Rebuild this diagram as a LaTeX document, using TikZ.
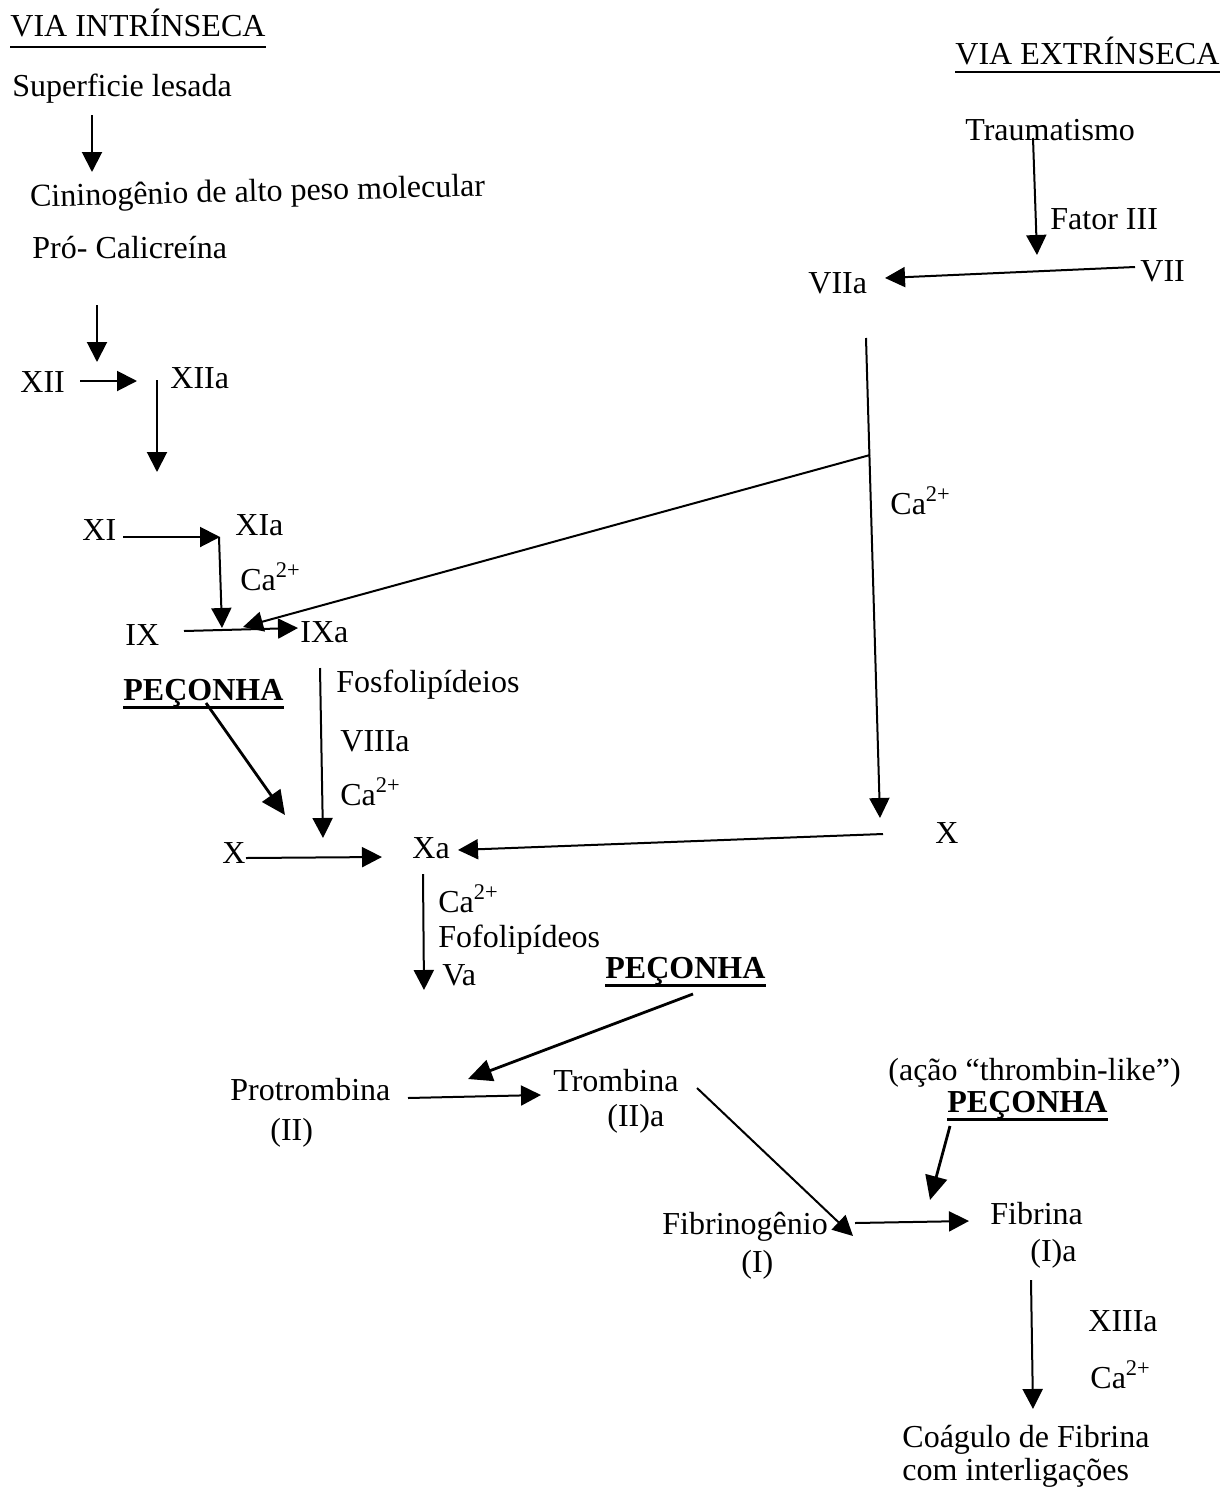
\documentclass[tikz,border=0pt]{standalone}
\usepackage{fontspec}
\setmainfont{Liberation Serif}
\usetikzlibrary{arrows.meta,calc}
\tikzset{
  t/.style={inner sep=0pt,anchor=base west,font=\fontsize{16}{19}\selectfont},
  tb/.style={t,font=\fontsize{16}{19}\selectfont\bfseries},
  ln/.style={line width=1pt},
  arr/.style={ln,-{Triangle[length=10pt,width=10pt]}},
  bigarr/.style={line width=1.4pt,-{Triangle[length=12pt,width=11pt]}},
  ulthin/.style={line width=0.8pt},
  ulthick/.style={line width=1.5pt}
}
\begin{document}
\begin{tikzpicture}[x=0.5pt,y=-0.5pt]
\useasboundingbox (0,0) rectangle (1223,1489);
% ---------- texts ----------
\node[t] (viaint) at (10,36) {VIA INTRÍNSECA};
\node[t] (sup) at (12,96) {Superficie lesada};
\node[t,rotate=1.4] (cin) at (30,207) {Cininogênio de alto peso molecular};
\node[t] (pro) at (32,258) {Pró- Calicreína};
\node[t] (xii) at (20,392) {XII};
\node[t] (xiia) at (170,388) {XIIa};
\node[t] (xi) at (82,540) {XI};
\node[t] (xia) at (235,535) {XIa};
\node[t] (ca1) at (240,590) {Ca\textsuperscript{2+}};
\node[t] (ix) at (125,645) {IX};
\node[t] (ixa) at (300,642) {IXa};
\node[tb] (pec1) at (123,700) {PEÇONHA};
\node[t] (fos) at (336,692) {Fosfolipídeios};
\node[t] (viii) at (340,751) {VIIIa};
\node[t] (ca2) at (340,805) {Ca\textsuperscript{2+}};
\node[t] (xl) at (222,863) {X};
\node[t] (xa) at (412,858) {Xa};
\node[t] (xr) at (935,843) {X};
\node[t] (ca3) at (890,514) {Ca\textsuperscript{2+}};
\node[t] (viaext) at (955,64) {VIA EXTRÍNSECA};
\node[t] (trau) at (965,140) {Traumatismo};
\node[t] (fat) at (1050,229) {Fator III};
\node[t] (viia) at (808,293) {VIIa};
\node[t] (vii) at (1140,281) {VII};
\node[t] (ca4) at (438,912) {Ca\textsuperscript{2+}};
\node[t] (fofo) at (438,947) {Fofolipídeos};
\node[t] (va) at (442,985) {Va};
\node[tb] (pec2) at (605,978) {PEÇONHA};
\node[t] (prot) at (230,1100) {Protrombina};
\node[t] (ii) at (270,1140) {(II)};
\node[t] (trom) at (553,1091) {Trombina};
\node[t] (iia) at (607,1126) {(II)a};
\node[t] (acao) at (888,1080) {(ação “thrombin-like”)};
\node[tb] (pec3) at (947,1112) {PEÇONHA};
\node[t] (fibg) at (662,1234) {Fibrinogênio};
\node[t] (i) at (741,1272) {(I)};
\node[t] (fib) at (990,1224) {Fibrina};
\node[t] (ia) at (1030,1261) {(I)a};
\node[t] (xiii) at (1088,1331) {XIIIa};
\node[t] (ca5) at (1090,1388) {Ca\textsuperscript{2+}};
\node[t] (coag) at (902,1447) {Coágulo de Fibrina};
\node[t] (com) at (902,1480) {com interligações};
% ---------- underlines ----------
\draw[ulthin] ($(viaint.base west)+(0,11)$) -- ($(viaint.base east)+(0,11)$);
\draw[ulthin] ($(viaext.base west)+(0,8)$) -- ($(viaext.base east)+(0,8)$);
\draw[ulthick] ($(pec1.base west)+(0,7)$) -- ($(pec1.base east)+(0,7)$);
\draw[ulthick] ($(pec2.base west)+(0,7)$) -- ($(pec2.base east)+(0,7)$);
\draw[ulthick] ($(pec3.base west)+(0,7)$) -- ($(pec3.base east)+(0,7)$);
% ---------- connector coordinates ----------
\coordinate (c1s) at (92,115);   \coordinate (c1e) at (92,172);
\coordinate (c2s) at (97,305);   \coordinate (c2e) at (97,362);
\coordinate (c3s) at (80,381);   \coordinate (c3e) at (137,381);
\coordinate (c4s) at (157,380);  \coordinate (c4e) at (157,472);
\coordinate (c5s) at (123,537);  \coordinate (c5e) at (220,537);
\coordinate (c6s) at (219,537);  \coordinate (c6e) at (222,628);
\coordinate (c7s) at (184,631);  \coordinate (c7e) at (298,628);
\coordinate (jn)  at (870,455);  \coordinate (c8e) at (243,627);
\coordinate (c9s) at (866,338);  \coordinate (c9e) at (880,818);
\coordinate (c10s) at (883,834); \coordinate (c10e) at (458,850);
\coordinate (c11s) at (206,703); \coordinate (c11e) at (285,815);
\coordinate (c12s) at (320,668); \coordinate (c12e) at (323,838);
\coordinate (c13s) at (246,858); \coordinate (c13e) at (382,857);
\coordinate (c14s) at (423,874); \coordinate (c14e) at (424,990);
\coordinate (c15s) at (693,994); \coordinate (c15e) at (468,1079);
\coordinate (c16s) at (408,1098); \coordinate (c16e) at (541,1095);
\coordinate (c17s) at (697,1088); \coordinate (c17e) at (853,1236);
\coordinate (c18s) at (855,1223); \coordinate (c18e) at (969,1221);
\coordinate (c19s) at (950,1126); \coordinate (c19e) at (930,1200);
\coordinate (c20s) at (1031,1280); \coordinate (c20e) at (1033,1409);
\coordinate (c21s) at (1033,138); \coordinate (c21e) at (1037,255);
\coordinate (c22s) at (1135,267); \coordinate (c22e) at (885,278);
% ---------- connectors ----------
\draw[arr] (c1s) -- (c1e);
\draw[arr] (c2s) -- (c2e);
\draw[arr] (c3s) -- (c3e);
\draw[arr] (c4s) -- (c4e);
\draw[arr] (c5s) -- (c5e);
\draw[arr] (c6s) -- (c6e);
\draw[arr] (c7s) -- (c7e);
\draw[arr] (jn) -- (c8e);
\draw[arr] (c9s) -- (c9e);
\draw[arr] (c10s) -- (c10e);
\draw[bigarr] (c11s) -- (c11e);
\draw[arr] (c12s) -- (c12e);
\draw[arr] (c13s) -- (c13e);
\draw[arr] (c14s) -- (c14e);
\draw[bigarr] (c15s) -- (c15e);
\draw[arr] (c16s) -- (c16e);
\draw[arr] (c17s) -- (c17e);
\draw[arr] (c18s) -- (c18e);
\draw[bigarr] (c19s) -- (c19e);
\draw[arr] (c20s) -- (c20e);
\draw[arr] (c21s) -- (c21e);
\draw[arr] (c22s) -- (c22e);
\end{tikzpicture}
\end{document}
